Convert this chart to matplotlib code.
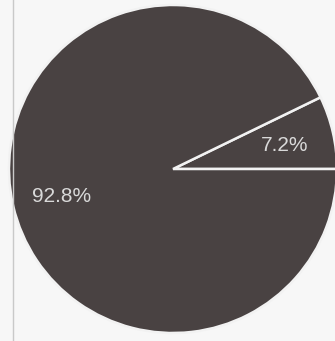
import numpy as np
import matplotlib.pyplot as plt
from matplotlib.lines import Line2D

plt.rcParams.update({"font.family": ["Liberation Sans", "DejaVu Sans"]})

# slice shares, in drawing order (counter-clockwise from 3 o'clock)
shares = [7.2, 92.8]
labels = ["7.2%", "92.8%"]

W, H, DPI = 335, 341, 100
CX, CY, R = 173, 169, 164  # pie centre / radius in pixels

fig = plt.figure(figsize=(W / DPI, H / DPI), dpi=DPI, facecolor="#f7f7f7")
ax = fig.add_axes([0, 0, 1, 1])
ax.set_facecolor("#f7f7f7")

wedges, texts = ax.pie(
    shares,
    colors=["#494242", "#494242"],
    startangle=0,
    counterclock=True,
    radius=1.0,
    wedgeprops={"edgecolor": "#f2f2f2", "linewidth": 1.8},
)
for w, lab in zip(wedges, labels):
    mid = np.deg2rad((w.theta1 + w.theta2) / 2)
    dist = 0.70
    ax.text(dist * np.cos(mid), dist * np.sin(mid), lab,
            ha="center", va="center_baseline", fontsize=15, color="#d9d9d9")

ax.set_aspect("auto")
ax.set_xlim(-CX / R, (W - CX) / R)
ax.set_ylim(-(H - CY) / R, CY / R)
ax.axis("off")

# thin frame line on the left
fig.add_artist(Line2D([13 / W, 13 / W], [0, 1], color="#c9c9c9", linewidth=1.0))

fig.savefig("out.png", dpi=DPI, facecolor=fig.get_facecolor())
